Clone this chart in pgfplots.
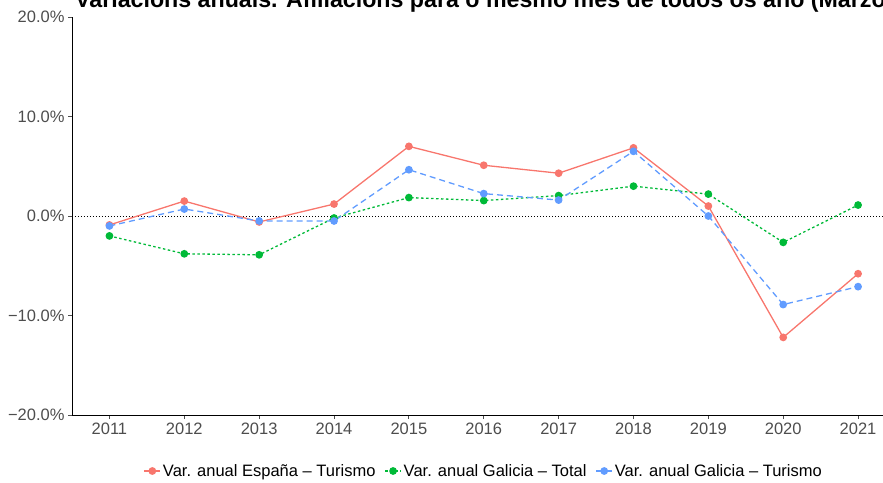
\documentclass[border=0pt]{standalone}
\usepackage{fontspec}
\setmainfont{Liberation Sans}
\usepackage{pgfplots}
\pgfplotsset{compat=1.18}
\definecolor{cred}{HTML}{F8766D}
\definecolor{cgreen}{HTML}{00BA38}
\definecolor{cblue}{HTML}{619CFF}
\definecolor{tickgray}{HTML}{4D4D4D}
\begin{document}
\begin{tikzpicture}
\begin{axis}[
  scale only axis, width=823.5pt, height=398pt,
  xmin=2010.5, xmax=2021.5, ymin=-20, ymax=20,
  axis lines*=left,
  axis line style={black, line width=0.9pt},
  clip=false,
  xtick={2011,2012,2013,2014,2015,2016,2017,2018,2019,2020,2021},
  xticklabels={2011,2012,2013,2014,2015,2016,2017,2018,2019,2020,2021},
  ytick={-20,-10,0,10,20},
  yticklabels={−20.0\%,−10.0\%,0.0\%,10.0\%,20.0\%},
  tick align=outside, major tick length=4pt,
  tick style={tickgray, line width=0.9pt},
  ticklabel style={font=\fontsize{16.5}{18}\selectfont, text=tickgray},
  legend style={at={(0.5,-0.1407)}, anchor=center, legend columns=-1, draw=none,
    font=\fontsize{16.5}{18}\selectfont, inner sep=0pt,
    /tikz/every even column/.append style={column sep=7pt}},
  legend image code/.code={\draw[mark repeat=2,mark phase=2,#1] plot coordinates {(0pt,0pt) (8pt,0pt) (16pt,0pt)};},
  every axis plot/.append style={line width=1.3pt, mark=*, mark size=3.2pt, mark options={solid}},
]
\addplot[black, line width=0.7pt, dash pattern=on 1pt off 2pt, mark=none, forget plot] coordinates {(2010.5,0) (2021.5,0)};
\addplot[cred, solid] coordinates {
(2011,-0.9) (2012,1.5) (2013,-0.6) (2014,1.2) (2015,7.0) (2016,5.1) (2017,4.3) (2018,6.85) (2019,1.0) (2020,-12.2) (2021,-5.8)};
\addlegendentry{Var. anual España – Turismo}
\addplot[cgreen, dash pattern=on 2.5pt off 2.5pt] coordinates {
(2011,-2.0) (2012,-3.8) (2013,-3.9) (2014,-0.2) (2015,1.85) (2016,1.55) (2017,2.05) (2018,3.0) (2019,2.2) (2020,-2.65) (2021,1.1)};
\addlegendentry{Var. anual Galicia – Total}
\addplot[cblue, dash pattern=on 6pt off 4pt] coordinates {
(2011,-1.0) (2012,0.7) (2013,-0.5) (2014,-0.5) (2015,4.65) (2016,2.25) (2017,1.6) (2018,6.5) (2019,0.0) (2020,-8.9) (2021,-7.1)};
\addlegendentry{Var. anual Galicia – Turismo}
\coordinate (SW) at (rel axis cs:0,0);
\coordinate (NE) at (rel axis cs:1,1);
\node[anchor=base west, font=\bfseries\fontsize{23.2}{26}\selectfont, inner sep=0pt] at ([xshift=3pt,yshift=9.5pt]rel axis cs:0,1) {Variacións anuais. Afiliacións para o mesmo mes de todos os ano (Marzo)};
\end{axis}
\pgfresetboundingbox
\path[use as bounding box] ([xshift=-72pt,yshift=-67pt]SW) rectangle ([xshift=-12.5pt,yshift=17pt]NE);
\end{tikzpicture}
\end{document}
